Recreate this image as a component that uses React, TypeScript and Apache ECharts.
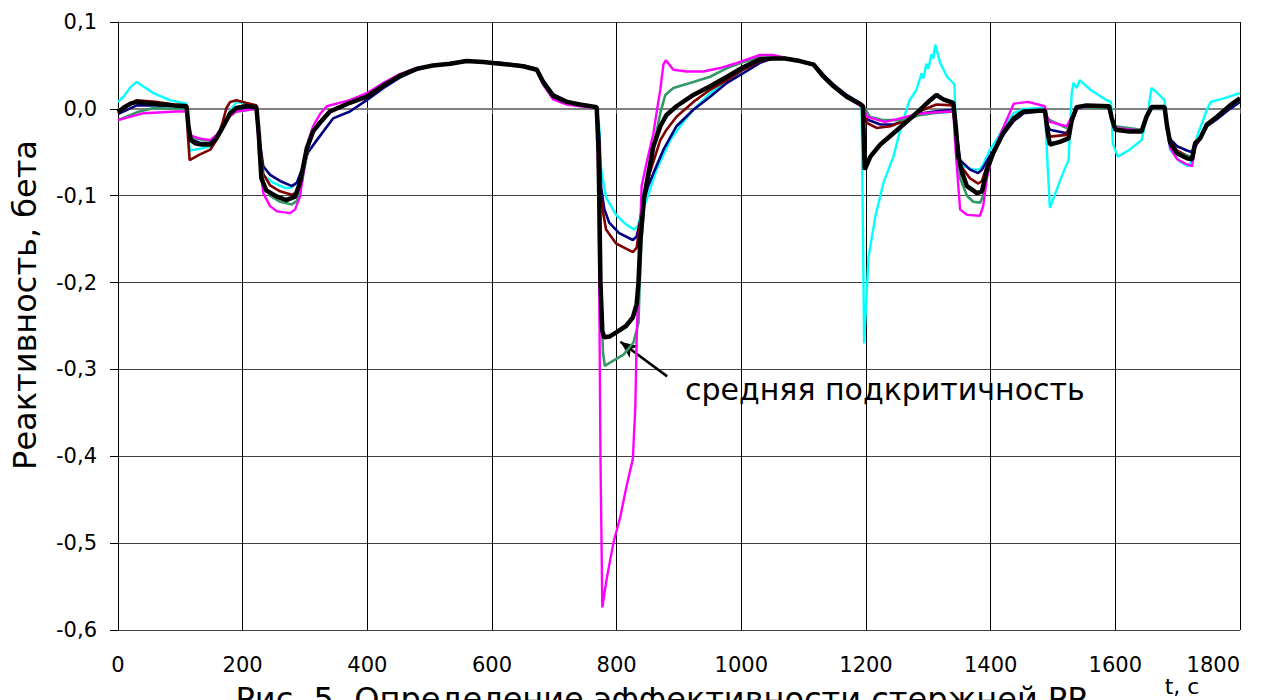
import React, { useEffect, useRef } from "react";
import * as echarts from "echarts";

const X_MIN = 0;
const X_MAX = 1800;
const X_STEP = 200;
const Y_MIN = -0.6;
const Y_MAX = 0.1;
const Y_STEP = 0.1;

const Y_NAME = "Реактивность, бета";
const X_NAME = "t, c";
const TITLE = "Рис. 5. Определение эффективности стержней РР";
const NOTE = "средняя подкритичность";
// arrow of the note, in data coordinates [t, value]
const NOTE_TAIL: [number, number] = [881, -0.308];
const NOTE_TIP: [number, number] = [806, -0.268];

const cyanData: [number, number][] = [
  [0, 0.008], [10, 0.015], [20, 0.025], [30, 0.031], [57, 0.018], [83, 0.01], [110, 0.006],
  [112, -0.02], [115, -0.048], [130, -0.046], [150, -0.043], [158, -0.034], [169, -0.019],
  [180, -0.002], [190, 0.008], [222, 0.004], [226, -0.03], [233, -0.076], [249, -0.085],
  [268, -0.091], [276, -0.091], [287, -0.085], [295, -0.07], [305, -0.045], [313, -0.027],
  [324, -0.016], [340, -0.003], [372, 0.007], [399, 0.014], [426, 0.027], [452, 0.038],
  [479, 0.046], [505, 0.05], [533, 0.052], [559, 0.055], [586, 0.054], [613, 0.052],
  [650, 0.049], [672, 0.045], [682, 0.031], [698, 0.015], [720, 0.008], [741, 0.005],
  [768, 0.002], [772, -0.02], [775, -0.069], [783, -0.102], [799, -0.122], [815, -0.133],
  [828, -0.139], [834, -0.135], [842, -0.115], [848, -0.105], [864, -0.07], [886, -0.036],
  [907, -0.015], [923, -0.001], [950, 0.018], [977, 0.031], [1003, 0.045], [1030, 0.055],
  [1050, 0.058], [1070, 0.058], [1094, 0.055], [1116, 0.051], [1132, 0.037], [1148, 0.026],
  [1169, 0.014], [1190, 0.004], [1193, 0.0], [1197, -0.27], [1204, -0.171], [1215, -0.124],
  [1228, -0.085], [1244, -0.055], [1255, -0.024], [1265, -0.001], [1270, 0.01], [1281, 0.022],
  [1289, 0.041], [1292, 0.035], [1297, 0.052], [1300, 0.046], [1305, 0.063], [1308, 0.058],
  [1311, 0.074], [1319, 0.053], [1330, 0.037], [1342, 0.028], [1345, -0.051], [1356, -0.066],
  [1372, -0.07], [1382, -0.07], [1388, -0.064], [1399, -0.047], [1410, -0.035], [1420, -0.022],
  [1437, -0.005], [1453, 0.0], [1487, 0.001], [1491, -0.06], [1495, -0.114], [1506, -0.093],
  [1516, -0.074], [1525, -0.059], [1530, 0.018], [1533, 0.03], [1538, 0.024], [1543, 0.033],
  [1560, 0.022], [1586, 0.01], [1593, 0.008], [1596, -0.04], [1604, -0.055], [1623, -0.047],
  [1642, -0.036], [1652, -0.005], [1658, 0.024], [1665, 0.02], [1679, 0.01], [1683, -0.02],
  [1688, -0.047], [1704, -0.061], [1717, -0.066], [1723, -0.059], [1731, -0.032], [1747, -0.001],
  [1753, 0.008], [1774, 0.012], [1800, 0.018],
];

const navyData: [number, number][] = [
  [0, -0.006], [30, 0.004], [60, 0.004], [90, 0.003], [110, 0.002], [113, -0.02], [117, -0.035],
  [130, -0.039], [148, -0.04], [158, -0.033], [169, -0.02], [180, -0.006], [190, 0.0], [222, 0.001],
  [226, -0.03], [233, -0.066], [244, -0.076], [260, -0.083], [279, -0.089], [287, -0.085],
  [295, -0.07], [305, -0.05], [319, -0.036], [345, -0.011], [372, -0.003], [399, 0.01],
  [426, 0.024], [452, 0.036], [479, 0.045], [505, 0.05], [533, 0.052], [559, 0.055], [586, 0.054],
  [613, 0.053], [650, 0.05], [672, 0.046], [682, 0.033], [698, 0.017], [720, 0.009], [741, 0.005],
  [768, 0.002], [772, -0.03], [775, -0.09], [780, -0.115], [788, -0.131], [804, -0.143],
  [826, -0.151], [832, -0.147], [836, -0.135], [842, -0.11], [850, -0.09], [859, -0.074],
  [875, -0.047], [896, -0.02], [923, -0.001], [950, 0.014], [977, 0.03], [1003, 0.041],
  [1030, 0.053], [1050, 0.058], [1070, 0.058], [1094, 0.055], [1116, 0.052], [1132, 0.039],
  [1148, 0.028], [1169, 0.016], [1190, 0.007], [1196, 0.003], [1201, -0.012], [1223, -0.018],
  [1244, -0.018], [1265, -0.013], [1290, -0.005], [1310, -0.003], [1340, -0.001], [1344, -0.02],
  [1351, -0.059], [1367, -0.07], [1380, -0.074], [1386, -0.07], [1394, -0.06], [1404, -0.048],
  [1420, -0.03], [1437, -0.014], [1453, -0.005], [1487, -0.002], [1491, -0.018], [1495, -0.024],
  [1522, -0.028], [1528, -0.02], [1538, 0.0], [1554, 0.003], [1590, 0.002], [1594, -0.01],
  [1600, -0.022], [1642, -0.026], [1650, -0.01], [1658, 0.001], [1679, 0.001], [1683, -0.02],
  [1688, -0.035], [1699, -0.043], [1715, -0.048], [1723, -0.05], [1728, -0.038], [1736, -0.034],
  [1747, -0.02], [1763, -0.012], [1784, 0.0], [1800, 0.008],
];

const maroonData: [number, number][] = [
  [0, -0.005], [30, 0.01], [60, 0.008], [90, 0.005], [110, 0.004], [112, -0.03], [115, -0.059],
  [130, -0.053], [148, -0.047], [158, -0.036], [168, -0.015], [174, 0.001], [180, 0.008],
  [190, 0.01], [205, 0.007], [222, 0.004], [226, -0.03], [233, -0.075], [244, -0.088],
  [260, -0.095], [279, -0.099], [287, -0.096], [295, -0.08], [305, -0.045], [313, -0.026],
  [324, -0.015], [340, -0.002], [372, 0.007], [399, 0.014], [426, 0.027], [452, 0.038],
  [479, 0.046], [505, 0.05], [533, 0.052], [559, 0.055], [586, 0.054], [613, 0.052], [650, 0.049],
  [672, 0.045], [682, 0.031], [698, 0.015], [720, 0.008], [741, 0.005], [768, 0.002],
  [772, -0.04], [775, -0.106], [783, -0.139], [799, -0.155], [815, -0.161], [826, -0.165],
  [832, -0.16], [836, -0.14], [842, -0.105], [853, -0.074], [870, -0.036], [880, -0.024],
  [896, -0.009], [923, 0.008], [950, 0.022], [977, 0.033], [1003, 0.045], [1030, 0.055],
  [1050, 0.058], [1070, 0.058], [1094, 0.055], [1116, 0.051], [1132, 0.038], [1148, 0.027],
  [1169, 0.015], [1190, 0.006], [1196, 0.003], [1201, -0.016], [1217, -0.022], [1239, -0.02],
  [1265, -0.013], [1292, -0.001], [1313, 0.005], [1340, 0.004], [1344, -0.02], [1351, -0.065],
  [1367, -0.08], [1380, -0.086], [1386, -0.083], [1394, -0.066], [1404, -0.05], [1420, -0.028],
  [1437, -0.011], [1453, -0.003], [1487, -0.002], [1491, -0.02], [1495, -0.032], [1522, -0.03],
  [1528, -0.015], [1538, 0.001], [1554, 0.004], [1590, 0.003], [1594, -0.01], [1600, -0.023],
  [1642, -0.026], [1650, -0.009], [1658, 0.002], [1679, 0.002], [1683, -0.02], [1688, -0.037],
  [1699, -0.048], [1715, -0.054], [1723, -0.056], [1728, -0.04], [1736, -0.034], [1747, -0.019],
  [1763, -0.01], [1784, 0.003], [1800, 0.011],
];

const greenData: [number, number][] = [
  [0, -0.013], [30, -0.004], [57, 0.001], [90, 0.0], [110, 0.0], [113, -0.02], [116, -0.032],
  [130, -0.035], [148, -0.037], [158, -0.031], [169, -0.019], [180, -0.008], [190, -0.003],
  [222, 0.0], [226, -0.03], [233, -0.085], [244, -0.1], [260, -0.107], [279, -0.11], [287, -0.106],
  [295, -0.085], [305, -0.045], [313, -0.027], [324, -0.015], [340, -0.002], [372, 0.007],
  [399, 0.014], [426, 0.027], [452, 0.038], [479, 0.046], [505, 0.05], [533, 0.052], [559, 0.055],
  [586, 0.054], [613, 0.052], [650, 0.049], [672, 0.045], [682, 0.03], [698, 0.014], [720, 0.007],
  [741, 0.004], [768, 0.002], [771, -0.05], [774, -0.2], [778, -0.28], [781, -0.296],
  [790, -0.292], [811, -0.283], [827, -0.269], [832, -0.255], [835, -0.246], [837, -0.2],
  [840, -0.15], [845, -0.1], [852, -0.068], [860, -0.04], [870, -0.005], [878, 0.016],
  [891, 0.024], [923, 0.031], [950, 0.037], [977, 0.047], [1003, 0.054], [1030, 0.059],
  [1050, 0.059], [1070, 0.058], [1094, 0.055], [1116, 0.051], [1132, 0.038], [1148, 0.027],
  [1169, 0.015], [1190, 0.006], [1196, 0.003], [1206, -0.009], [1228, -0.013], [1255, -0.013],
  [1281, -0.008], [1308, -0.005], [1340, -0.003], [1344, -0.03], [1351, -0.08], [1362, -0.1],
  [1372, -0.107], [1383, -0.108], [1388, -0.1], [1394, -0.075], [1404, -0.052], [1420, -0.028],
  [1437, -0.011], [1453, -0.003], [1487, -0.002], [1491, -0.01], [1495, -0.013], [1522, -0.022],
  [1528, -0.015], [1538, 0.0], [1554, 0.002], [1590, 0.001], [1594, -0.01], [1600, -0.02],
  [1642, -0.024], [1650, -0.01], [1658, 0.0], [1679, 0.0], [1683, -0.02], [1688, -0.04],
  [1699, -0.05], [1715, -0.054], [1723, -0.055], [1728, -0.04], [1736, -0.034], [1747, -0.019],
  [1763, -0.01], [1784, 0.003], [1800, 0.01],
];

const magentaData: [number, number][] = [
  [0, -0.013], [41, -0.005], [94, -0.003], [110, -0.003], [113, -0.03], [131, -0.034],
  [148, -0.036], [158, -0.03], [169, -0.019], [180, -0.008], [190, -0.003], [222, 0.0],
  [226, -0.05], [233, -0.097], [244, -0.112], [255, -0.118], [276, -0.12], [284, -0.116],
  [292, -0.101], [300, -0.06], [306, -0.035], [313, -0.02], [325, -0.005], [335, 0.003],
  [372, 0.01], [399, 0.018], [426, 0.03], [452, 0.04], [479, 0.047], [505, 0.05], [533, 0.053],
  [559, 0.055], [586, 0.054], [613, 0.052], [650, 0.049], [672, 0.044], [682, 0.028], [698, 0.011],
  [720, 0.005], [741, 0.003], [768, 0.001], [771, -0.1], [774, -0.4], [777, -0.574], [784, -0.541],
  [795, -0.499], [806, -0.469], [816, -0.434], [826, -0.403], [830, -0.342], [832, -0.266],
  [835, -0.2], [840, -0.089], [848, -0.062], [859, -0.028], [865, 0.0], [870, 0.022], [875, 0.051],
  [879, 0.056], [891, 0.045], [912, 0.043], [939, 0.043], [966, 0.047], [993, 0.053], [1030, 0.062],
  [1050, 0.062], [1070, 0.059], [1094, 0.055], [1116, 0.051], [1132, 0.036], [1148, 0.025],
  [1169, 0.013], [1190, 0.004], [1196, 0.001], [1201, -0.009], [1230, -0.015], [1255, -0.011],
  [1281, -0.006], [1310, -0.004], [1340, -0.003], [1344, -0.05], [1351, -0.116], [1362, -0.122],
  [1383, -0.123], [1388, -0.112], [1394, -0.08], [1404, -0.05], [1420, -0.022], [1437, 0.006],
  [1460, 0.008], [1487, 0.003], [1491, -0.01], [1495, -0.015], [1522, -0.02], [1528, -0.012],
  [1538, 0.0], [1554, 0.003], [1590, 0.002], [1594, -0.01], [1600, -0.022], [1642, -0.025],
  [1650, -0.01], [1658, 0.001], [1679, 0.001], [1683, -0.025], [1688, -0.045], [1699, -0.058],
  [1715, -0.064], [1723, -0.066], [1728, -0.045], [1736, -0.034], [1747, -0.018], [1763, -0.009],
  [1784, 0.004], [1800, 0.012],
];

const blackData: [number, number][] = [
  [0, -0.004], [10, 0.002], [20, 0.006], [30, 0.008], [60, 0.006], [90, 0.004], [110, 0.003],
  [113, -0.02], [117, -0.036], [125, -0.04], [135, -0.041], [148, -0.041], [158, -0.034],
  [169, -0.02], [180, -0.005], [190, 0.001], [205, 0.003], [222, 0.002], [226, -0.03],
  [230, -0.08], [238, -0.094], [255, -0.101], [270, -0.105], [284, -0.101], [292, -0.085],
  [303, -0.045], [313, -0.026], [324, -0.016], [340, -0.003], [372, 0.007], [399, 0.014],
  [426, 0.027], [452, 0.038], [479, 0.046], [505, 0.05], [533, 0.052], [559, 0.055], [586, 0.054],
  [613, 0.052], [650, 0.049], [672, 0.045], [682, 0.031], [698, 0.015], [720, 0.008], [741, 0.005],
  [768, 0.002], [771, -0.05], [774, -0.2], [777, -0.256], [780, -0.263], [789, -0.262],
  [800, -0.257], [815, -0.25], [826, -0.24], [832, -0.225], [835, -0.2], [838, -0.152],
  [844, -0.102], [850, -0.078], [859, -0.043], [870, -0.02], [880, -0.007], [896, 0.003],
  [923, 0.016], [950, 0.026], [977, 0.037], [1003, 0.048], [1030, 0.057], [1050, 0.058],
  [1070, 0.058], [1094, 0.055], [1116, 0.051], [1132, 0.037], [1148, 0.026], [1169, 0.014],
  [1190, 0.006], [1195, 0.003], [1198, -0.07], [1207, -0.055], [1223, -0.041], [1244, -0.028],
  [1265, -0.015], [1287, -0.001], [1303, 0.01], [1313, 0.016], [1324, 0.011], [1340, 0.007],
  [1344, -0.02], [1348, -0.055], [1355, -0.075], [1362, -0.089], [1378, -0.097], [1386, -0.095],
  [1394, -0.07], [1404, -0.051], [1420, -0.028], [1437, -0.011], [1453, -0.003], [1487, -0.002],
  [1491, -0.025], [1495, -0.041], [1511, -0.038], [1525, -0.034], [1530, -0.013], [1538, 0.002],
  [1554, 0.004], [1590, 0.003], [1594, -0.01], [1600, -0.024], [1623, -0.026], [1642, -0.026],
  [1650, -0.009], [1658, 0.002], [1679, 0.002], [1683, -0.02], [1688, -0.039], [1699, -0.051],
  [1715, -0.057], [1723, -0.058], [1728, -0.04], [1736, -0.034], [1747, -0.018], [1763, -0.009],
  [1784, 0.004], [1800, 0.012],
];

const SERIES_NAMES = ["cyan", "navy", "maroon", "green", "magenta", "average"];
const SERIES_COLORS = ["#00FFFF", "#000080", "#800000", "#339966", "#FF00FF", "#000000"];
const SERIES_WIDTHS = [2.4, 2.6, 2.6, 2.6, 2.4, 4.5];
const SERIES_DATA = [cyanData, navyData, maroonData, greenData, magentaData, blackData];

const FONT = "'DejaVu Sans', sans-serif";

function yLabel(v: number): string {
  const s = (Math.round(v * 10) / 10).toFixed(1);
  return (s === "-0.0" ? "0.0" : s).replace(".", ",");
}

function xLabel(v: number): string {
  return String(Math.round(v));
}

export default function App() {
  const ref = useRef<HTMLDivElement>(null);

  useEffect(() => {
    if (!ref.current) return;
    const chart = echarts.init(ref.current, undefined, { renderer: "svg" });

    const series: any[] = SERIES_DATA.map((d, i) => ({
      name: SERIES_NAMES[i],
      type: "line",
      data: d,
      showSymbol: false,
      symbol: "none",
      xAxisIndex: 0,
      yAxisIndex: 0,
      lineStyle: { color: SERIES_COLORS[i], width: SERIES_WIDTHS[i] },
      itemStyle: { color: SERIES_COLORS[i] },
      z: 2 + i,
      silent: true,
    }));

    series[series.length - 1].markLine = {
      silent: true,
      symbol: ["none", "arrow"],
      symbolSize: [11, 17],
      lineStyle: { color: "#000", width: 2.5, type: "solid" },
      label: { show: false },
      data: [[{ coord: NOTE_TAIL }, { coord: NOTE_TIP }]],
    };

    chart.setOption({
      animation: false,
      backgroundColor: "#ffffff",
      textStyle: { fontFamily: FONT },
      grid: { left: 118, right: 44, top: 22, bottom: 70, containLabel: false },
      xAxis: [
        {
          type: "value",
          min: X_MIN,
          max: X_MAX,
          interval: X_STEP,
          position: "bottom",
          axisLine: { show: false, onZero: false },
          axisTick: { show: false },
          axisLabel: {
            color: "#000",
            fontSize: 21,
            fontFamily: FONT,
            margin: 24,
            formatter: xLabel,
            alignMaxLabel: "right",
          },
          splitLine: { show: true, lineStyle: { color: "#000", width: 1 } },
        },
        {
          type: "value",
          min: X_MIN,
          max: X_MAX,
          interval: X_STEP,
          position: "bottom",
          axisLine: { show: true, onZero: true, lineStyle: { color: "#808080", width: 2 } },
          axisTick: { show: true, inside: false, length: 5, lineStyle: { color: "#555", width: 1 } },
          axisLabel: { show: false },
          splitLine: { show: false },
        },
      ],
      yAxis: {
        type: "value",
        min: Y_MIN,
        max: Y_MAX,
        interval: Y_STEP,
        axisLine: { show: true, onZero: false, lineStyle: { color: "#000", width: 1 } },
        axisTick: { show: true, inside: false, length: 8, lineStyle: { color: "#000", width: 1 } },
        axisLabel: { color: "#000", fontSize: 21, fontFamily: FONT, margin: 21, formatter: yLabel },
        splitLine: { show: true, lineStyle: { color: "#404040", width: 1 } },
      },
      graphic: [
        {
          type: "text",
          x: 25,
          y: 305,
          rotation: Math.PI / 2,
          style: { text: Y_NAME, font: `32px ${FONT}`, fill: "#000", align: "center", verticalAlign: "middle" },
        },
        {
          type: "text",
          x: 1182,
          y: 686,
          style: { text: X_NAME, font: `22px ${FONT}`, fill: "#000", align: "center", verticalAlign: "middle" },
        },
        {
          type: "text",
          x: 661,
          y: 699,
          style: { text: TITLE, font: `32px ${FONT}`, fill: "#000", align: "center", verticalAlign: "middle" },
        },
        {
          type: "text",
          x: 685,
          y: 389,
          style: { text: NOTE, font: `30px ${FONT}`, fill: "#000", align: "left", verticalAlign: "middle" },
        },
      ],
      series,
    });

    return () => chart.dispose();
  }, []);

  return (
    <div
      ref={ref}
      style={{ position: "fixed", left: 0, top: 0, width: 1284, height: 700, background: "#fff" }}
    />
  );
}
